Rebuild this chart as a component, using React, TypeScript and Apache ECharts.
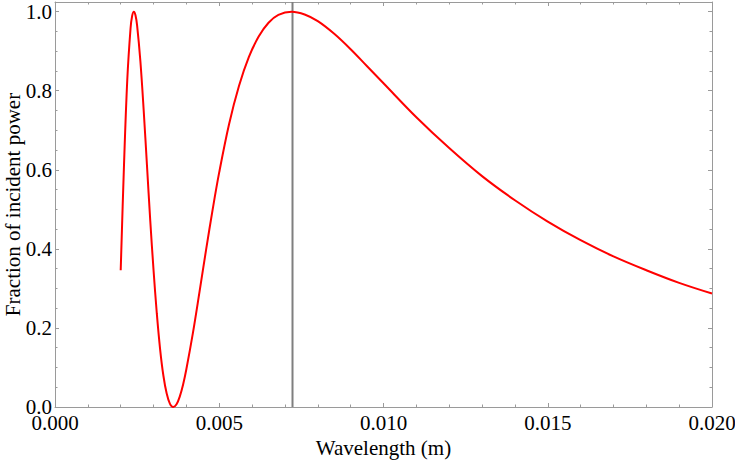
import React, { useEffect, useRef } from "react";
import * as echarts from "echarts";

const wavelengths = [
  0.002, 0.0021, 0.0022, 0.0023, 0.00235, 0.0024, 0.00245, 0.0025, 0.0026, 0.0027,
  0.0028, 0.0029, 0.003, 0.0031, 0.0032, 0.0033, 0.0034, 0.0035, 0.0036, 0.0037,
  0.0038, 0.0039, 0.004, 0.0042, 0.0044, 0.0046, 0.0048, 0.005, 0.0053, 0.0056,
  0.0059, 0.0062, 0.0065, 0.0068, 0.0072, 0.0076, 0.008, 0.0085, 0.009, 0.0095,
  0.01, 0.011, 0.012, 0.013, 0.014, 0.015, 0.016, 0.017, 0.018, 0.019, 0.02,
];
const fractions = [
  0.346, 0.611, 0.827, 0.958, 0.99, 1.0, 0.991, 0.965, 0.874, 0.75,
  0.611, 0.471, 0.346, 0.236, 0.146, 0.079, 0.034, 0.008, 0.0, 0.007,
  0.027, 0.057, 0.096, 0.188, 0.292, 0.398, 0.5, 0.594, 0.716, 0.812,
  0.885, 0.937, 0.972, 0.992, 1.0, 0.993, 0.976, 0.944, 0.905, 0.862,
  0.819, 0.733, 0.655, 0.584, 0.523, 0.469, 0.422, 0.381, 0.346, 0.314, 0.287,
];
const markerWavelength = 0.00723;
const markerRange = [0, 1.0245];

const xTitle = "Wavelength (m)";
const yTitle = "Fraction of incident power";

const FONT = "'Liberation Serif', 'Times New Roman', serif";
const FRAME = "#9a9a9a";
const FS = 21;

export default function App() {
  const ref = useRef<HTMLDivElement>(null);
  useEffect(() => {
    if (!ref.current) return;
    const chart = echarts.init(ref.current, null, { renderer: "svg" });
    const baseX = {
      type: "value" as const,
      min: 0,
      max: 0.02,
      interval: 0.005,
      axisLine: { show: true, onZero: false, lineStyle: { color: FRAME, width: 1 } },
      axisTick: { show: true, inside: true, length: 4, lineStyle: { color: FRAME } },
      minorTick: { show: true, splitNumber: 5, length: 2.5, lineStyle: { color: FRAME } },
      splitLine: { show: false },
    };
    const baseY = {
      type: "value" as const,
      min: markerRange[0],
      max: markerRange[1],
      interval: 0.2,
      axisLine: { show: true, onZero: false, lineStyle: { color: FRAME, width: 1 } },
      axisTick: { show: true, inside: true, length: 4, lineStyle: { color: FRAME } },
      minorTick: { show: true, splitNumber: 4, length: 2.5, lineStyle: { color: FRAME } },
      splitLine: { show: false },
    };
    chart.setOption({
      animation: false,
      backgroundColor: "#ffffff",
      grid: {
        left: 55,
        right: 23,
        top: 2,
        bottom: 54,
        containLabel: false,
        outerBoundsMode: "none",
      },
      xAxis: [
        {
          ...baseX,
          position: "bottom",
          name: xTitle,
          nameLocation: "middle",
          nameGap: 30,
          nameMoveOverlap: false,
          nameTextStyle: { fontFamily: FONT, fontSize: FS, color: "#000" },
          axisLabel: {
            show: true,
            margin: 5,
            fontFamily: FONT,
            fontSize: FS,
            color: "#000",
            formatter: (v: number) => v.toFixed(3),
          },
        },
        { ...baseX, position: "top", axisLabel: { show: false } },
      ],
      yAxis: [
        {
          ...baseY,
          position: "left",
          name: yTitle,
          nameLocation: "middle",
          nameGap: 32,
          nameRotate: 90,
          nameMoveOverlap: false,
          nameTextStyle: { fontFamily: FONT, fontSize: FS, color: "#000" },
          axisLabel: {
            show: true,
            margin: 3,
            fontFamily: FONT,
            fontSize: FS,
            color: "#000",
            showMaxLabel: false,
            formatter: (v: number) => v.toFixed(1),
          },
        },
        { ...baseY, position: "right", axisLabel: { show: false } },
      ],
      series: [
        {
          type: "line",
          xAxisIndex: 0,
          yAxisIndex: 0,
          data: markerRange.map((y) => [markerWavelength, y]),
          showSymbol: false,
          symbol: "none",
          silent: true,
          lineStyle: { color: "#7f7f7f", width: 2 },
          z: 1,
        },
        {
          type: "line",
          xAxisIndex: 0,
          yAxisIndex: 0,
          data: wavelengths.map((w, i) => [w, fractions[i]]),
          smooth: 0.35,
          showSymbol: false,
          symbol: "none",
          lineStyle: { color: "#ff0000", width: 2 },
          z: 2,
        },
      ],
    });
    return () => chart.dispose();
  }, []);
  return (
    <div
      ref={ref}
      style={{ position: "fixed", left: 0, top: 0, width: 735, height: 461, background: "#fff" }}
    />
  );
}
